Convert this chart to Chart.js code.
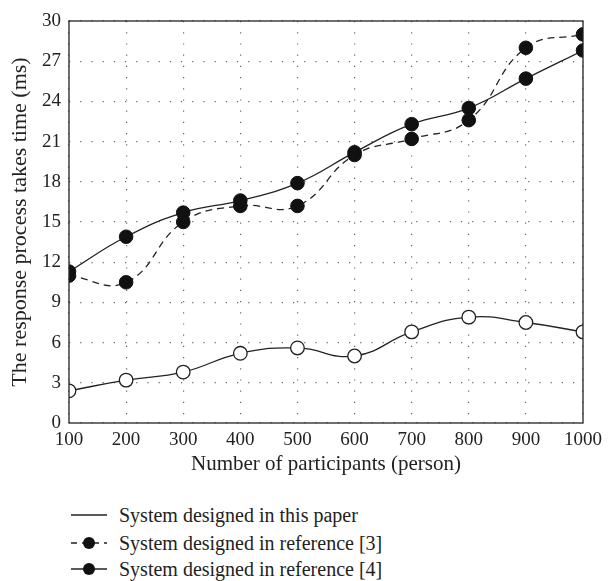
<!DOCTYPE html>
<html>
<head>
<meta charset="utf-8">
<script src="https://cdn.jsdelivr.net/npm/chart.js@4"></script>
<style>
  html, body { margin: 0; padding: 0; background: #fff; }
  #wrap { position: relative; width: 608px; height: 581px; }
  #chartBox { position: absolute; left: 0; top: 0; width: 608px; height: 482px; }
  .leg { position: absolute; left: 70px; height: 26px; display: flex; align-items: center;
         font-family: "Liberation Serif", "DejaVu Serif", serif; font-size: 20px; color: #222; }
  .leg svg { margin-right: 11px; }
</style>
</head>
<body>
<div id="wrap">
  <div id="chartBox"><canvas id="c"></canvas></div>
  <div class="leg" style="top:502px">
    <svg width="38" height="14"><line x1="1" y1="7" x2="37" y2="7" stroke="#222" stroke-width="1.3"/></svg>
    <span>System designed in this paper</span>
  </div>
  <div class="leg" style="top:530px">
    <svg width="38" height="14"><line x1="1" y1="7" x2="37" y2="7" stroke="#222" stroke-width="1.3" stroke-dasharray="6 5"/><circle cx="19" cy="7" r="6" fill="#111"/></svg>
    <span>System designed in reference [3]</span>
  </div>
  <div class="leg" style="top:556px">
    <svg width="38" height="14"><line x1="1" y1="7" x2="37" y2="7" stroke="#222" stroke-width="1.3"/><circle cx="19" cy="7" r="6" fill="#111"/></svg>
    <span>System designed in reference [4]</span>
  </div>
</div>
<script>
const participants = [100, 200, 300, 400, 500, 600, 700, 800, 900, 1000];
const thisPaper = [2.4, 3.2, 3.8, 5.2, 5.6, 5.0, 6.8, 7.9, 7.5, 6.8];
const reference3 = [11.0, 10.5, 15.0, 16.2, 16.2, 20.0, 21.2, 22.6, 28.0, 29.0];
const reference4 = [11.3, 13.9, 15.7, 16.6, 17.9, 20.2, 22.3, 23.5, 25.7, 27.8];
const yTicks = [0, 3, 6, 9, 12, 15, 18, 21, 24, 27, 30];

const toXY = arr => participants.map((x, i) => ({ x: x, y: arr[i] }));
const serif = '"Liberation Serif", "DejaVu Serif", serif';

const frame = {
  id: 'frame',
  afterDatasetsDraw(chart) {
    const a = chart.chartArea, ctx = chart.ctx;
    ctx.save();
    ctx.strokeStyle = '#222';
    ctx.lineWidth = 1.3;
    ctx.strokeRect(a.left, a.top, a.right - a.left, a.bottom - a.top);
    ctx.restore();
  }
};

new Chart(document.getElementById('c'), {
  type: 'line',
  data: {
    datasets: [
      { label: 'System designed in reference [3]', data: toXY(reference3),
        borderColor: '#222', borderWidth: 1.3, borderDash: [7, 5], tension: 0.45,
        pointRadius: 6.8, pointBackgroundColor: '#111', pointBorderColor: '#111', pointBorderWidth: 1 },
      { label: 'System designed in reference [4]', data: toXY(reference4),
        borderColor: '#222', borderWidth: 1.3, tension: 0.45,
        pointRadius: 6.8, pointBackgroundColor: '#111', pointBorderColor: '#111', pointBorderWidth: 1 },
      { label: 'System designed in this paper', data: toXY(thisPaper),
        borderColor: '#222', borderWidth: 1.3, tension: 0.45,
        pointRadius: 6.8, pointBackgroundColor: '#fff', pointBorderColor: '#222', pointBorderWidth: 1.3 }
    ]
  },
  options: {
    responsive: true, maintainAspectRatio: false, animation: false,
    layout: { padding: { top: 21, right: 14, left: 7, bottom: 0 } },
    plugins: { legend: { display: false }, tooltip: { enabled: false } },
    scales: {
      x: {
        type: 'linear', min: 100, max: 1000,
        afterBuildTicks: s => { s.ticks = participants.map(v => ({ value: v })); },
        afterFit: s => { s.height = 59; },
        grid: { color: '#666', lineWidth: 1.2, drawTicks: false },
        border: { display: false, dash: [1.2, 10] },
        ticks: { color: '#222', font: { family: serif, size: 19 }, padding: 6, maxRotation: 0,
                 callback: v => String(v) },
        title: { display: true, text: 'Number of participants (person)', color: '#222',
                 font: { family: serif, size: 21 }, padding: { top: 0, bottom: 5 } }
      },
      y: {
        min: 0, max: 30,
        afterBuildTicks: s => { s.ticks = yTicks.map(v => ({ value: v })); },
        afterFit: s => { s.width = 62; },
        grid: { color: '#666', lineWidth: 1.2, drawTicks: false },
        border: { display: false, dash: [1.2, 10] },
        ticks: { color: '#222', font: { family: serif, size: 19 }, padding: 8,
                 callback: v => String(v) },
        title: { display: true, text: 'The response process takes time (ms)', color: '#222',
                 font: { family: serif, size: 22 }, padding: { top: 0, bottom: 2 } }
      }
    }
  },
  plugins: [frame]
});
</script>
</body>
</html>
